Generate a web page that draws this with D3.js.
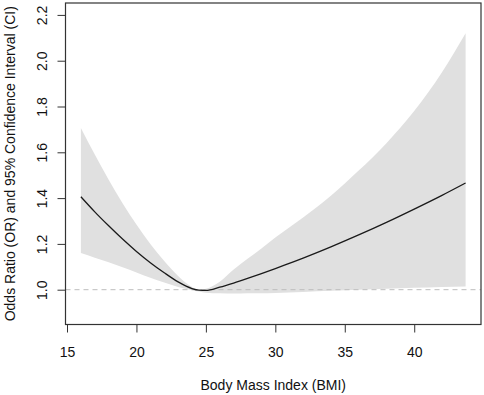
<!DOCTYPE html>
<html>
<head>
<meta charset="utf-8">
<script src="https://cdn.jsdelivr.net/npm/d3@7"></script>
<style>
  body { margin: 0; background: #fff; }
  text { font-family: "Liberation Sans", Arial, sans-serif; fill: #111; }
</style>
</head>
<body>
<div id="main"></div>
<script>
// BMI values where the curve was read
var bmi   = [16, 17, 18, 19, 20, 21, 22, 23, 24, 24.5, 25, 26, 27, 28, 29, 30, 31, 32, 34, 36, 38, 40, 42, 43.7];
// odds ratio
var orVal = [1.406, 1.34, 1.279, 1.221, 1.167, 1.118, 1.074, 1.034, 1.005, 0.998, 0.997, 1.011, 1.029, 1.049, 1.07, 1.092, 1.115, 1.138, 1.187, 1.239, 1.294, 1.352, 1.412, 1.466];
// 95% CI bounds
var upper = [1.706, 1.59, 1.48, 1.378, 1.285, 1.2, 1.125, 1.06, 1.012, 0.999, 1.004, 1.035, 1.088, 1.135, 1.18, 1.228, 1.272, 1.315, 1.41, 1.52, 1.64, 1.78, 1.95, 2.12];
var lower = [1.16, 1.14, 1.12, 1.098, 1.075, 1.052, 1.031, 1.012, 0.998, 0.992, 0.987, 0.984, 0.983, 0.984, 0.985, 0.986, 0.988, 0.99, 0.995, 1.0, 1.004, 1.008, 1.012, 1.014];

var xTicks = [15, 20, 25, 30, 35, 40];
var yTicks = [1.0, 1.2, 1.4, 1.6, 1.8, 2.0, 2.2];
var xlim = [16, 43.7], ylim = [0.9, 2.2];

var width = 484, height = 395;
var box = {left: 65.5, right: 481, top: 3, bottom: 324.5};

// R style 4% padding on each side
function pad(l) { var d = (l[1] - l[0]) * 0.04; return [l[0] - d, l[1] + d]; }

var xScale = d3.scaleLinear().domain(pad(xlim)).range([box.left, box.right]);
var yScale = d3.scaleLinear().domain(pad(ylim)).range([box.bottom, box.top]);

var data = bmi.map(function(b, i) {
  return {x: b, or: orVal[i], lo: lower[i], hi: upper[i]};
});

var svg = d3.select("#main")
    .append("svg")
    .attr("width", width)
    .attr("height", height);

// CI band
var band = d3.area()
    .x(function(d) { return xScale(d.x); })
    .y0(function(d) { return yScale(d.lo); })
    .y1(function(d) { return yScale(d.hi); })
    .curve(d3.curveMonotoneX);

svg.append("path")
    .datum(data)
    .attr("d", band)
    .style("fill", "#e0e0e0")
    .style("stroke", "none");

// reference line at OR = 1
svg.append("line")
    .attr("x1", box.left)
    .attr("x2", box.right)
    .attr("y1", yScale(1))
    .attr("y2", yScale(1))
    .style("stroke", "#bdbdbd")
    .style("stroke-width", 1)
    .style("stroke-dasharray", "5,4");

// OR curve
var line = d3.line()
    .x(function(d) { return xScale(d.x); })
    .y(function(d) { return yScale(d.or); })
    .curve(d3.curveMonotoneX);

svg.append("path")
    .datum(data)
    .attr("d", line)
    .style("fill", "none")
    .style("stroke", "#1a1a1a")
    .style("stroke-width", 1.3);

// plot box
svg.append("rect")
    .attr("x", box.left)
    .attr("y", box.top)
    .attr("width", box.right - box.left)
    .attr("height", box.bottom - box.top)
    .style("fill", "none")
    .style("stroke", "#333")
    .style("stroke-width", 1.2);

// x-axis
var xAxis = d3.axisBottom(xScale).tickValues(xTicks).tickSize(8).tickSizeOuter(0);
var gx = svg.append("g")
    .attr("transform", "translate(0," + box.bottom + ")")
    .call(xAxis);
gx.select(".domain").remove();
gx.selectAll("line").style("stroke", "#333");
gx.selectAll("text")
    .style("font-size", "14px")
    .style("font-family", "Liberation Sans, Arial, sans-serif")
    .attr("y", 32)
    .attr("dy", 0);

// y-axis, labels rotated like R
var yAxis = d3.axisLeft(yScale).tickValues(yTicks).tickSize(8).tickSizeOuter(0)
    .tickFormat(d3.format(".1f"));
var gy = svg.append("g")
    .attr("transform", "translate(" + box.left + ",0)")
    .call(yAxis);
gy.select(".domain").remove();
gy.selectAll("line").style("stroke", "#333");
gy.selectAll("text")
    .style("font-size", "14px")
    .style("font-family", "Liberation Sans, Arial, sans-serif")
    .style("text-anchor", "middle")
    .attr("x", 0)
    .attr("dy", 0)
    .attr("transform", "translate(-18.5,0) rotate(-90)");

// axis titles
svg.append("text")
    .attr("x", (box.left + box.right) / 2)
    .attr("y", 390)
    .style("text-anchor", "middle")
    .style("font-size", "14px")
    .text("Body Mass Index (BMI)");

svg.append("text")
    .attr("transform", "translate(14.5," + (box.top + box.bottom) / 2 + ") rotate(-90)")
    .style("text-anchor", "middle")
    .style("font-size", "14px")
    .text("Odds Ratio (OR) and 95% Confidence Interval (CI)");
</script>
</body>
</html>
